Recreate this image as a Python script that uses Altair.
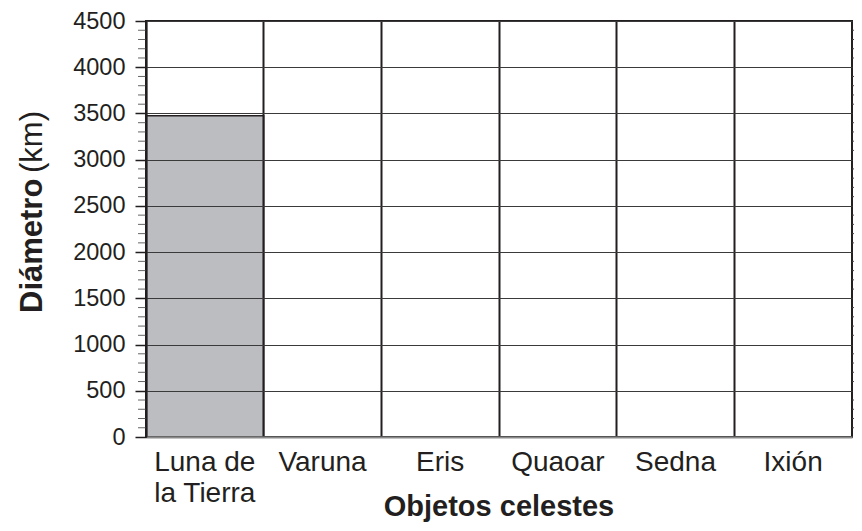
import altair as alt
import pandas as pd

objetos = ["Luna de la Tierra", "Varuna", "Eris", "Quaoar", "Sedna", "Ixión"]
diametros = [3475, None, None, None, None, None]
ticks_mayores = [0, 500, 1000, 1500, 2000, 2500, 3000, 3500, 4000, 4500]
ticks_menores = [100, 200, 300, 400, 600, 700, 800, 900, 1100, 1200, 1300, 1400,
                 1600, 1700, 1800, 1900, 2100, 2200, 2300, 2400, 2600, 2700, 2800, 2900,
                 3100, 3200, 3300, 3400, 3600, 3700, 3800, 3900, 4100, 4200, 4300, 4400]
titulo_y = ["Diámetro", "(km)"]
titulo_x = "Objetos celestes"

W, H = 706, 416
FONT = "Liberation Sans"
INK = "#231f20"

df = pd.DataFrame({"objeto": objetos, "diametro": diametros})

yscale = alt.Scale(domain=[0, 4500], nice=False, zero=True)

bars = alt.Chart(df).mark_bar(fill="#bcbdc0", stroke=INK, strokeWidth=1.5).encode(
    x=alt.X("objeto:N", sort=objetos,
            scale=alt.Scale(domain=objetos, paddingInner=0, paddingOuter=0),
            axis=alt.Axis(title=None, grid=True, gridColor=INK, gridWidth=2, gridOpacity=1,
                          bandPosition=0, ticks=False, domain=True, domainColor="#8a8a8a",
                          domainWidth=2, labelFontSize=28, labelColor=INK, labelPadding=11,
                          labelLineHeight=31, labelAngle=0, labelBaseline="top",
                          labelExpr="datum.value == 'Luna de la Tierra' ? ['Luna de', 'la Tierra'] : datum.value",
                          zindex=1)),
    y=alt.Y("diametro:Q", scale=yscale,
            axis=alt.Axis(title=None, values=ticks_mayores, format="d", grid=True,
                          gridColor="#3a3a3a", gridWidth=1, gridOpacity=1, tickSize=11,
                          tickColor=INK, tickWidth=1.5, domainColor=INK, domainWidth=1.5,
                          labelFontSize=23.5, labelColor=INK, labelPadding=10, zindex=1)),
)

minor_df = pd.DataFrame({"v": ticks_menores})
minor_left = alt.Chart(minor_df).mark_rule(color="#666666", strokeWidth=1).encode(
    y=alt.Y("v:Q", scale=yscale), x=alt.value(-8), x2=alt.value(0))
minor_right = alt.Chart(minor_df).mark_rule(color="#444444", strokeWidth=1).encode(
    y=alt.Y("v:Q", scale=yscale), x=alt.value(W), x2=alt.value(W + 2))

ty1 = alt.Chart(pd.DataFrame({"t": [titulo_y[0]]})).mark_text(
    angle=270, align="left", baseline="alphabetic", fontSize=31, fontWeight="bold",
    font=FONT, color=INK).encode(text="t:N", x=alt.value(-104), y=alt.value(292))
ty2 = alt.Chart(pd.DataFrame({"t": [titulo_y[1]]})).mark_text(
    angle=270, align="left", baseline="alphabetic", fontSize=31, fontWeight="normal",
    font=FONT, color=INK).encode(text="t:N", x=alt.value(-104), y=alt.value(152))
tx = alt.Chart(pd.DataFrame({"t": [titulo_x]})).mark_text(
    align="center", baseline="alphabetic", fontSize=29, fontWeight="bold",
    font=FONT, color=INK).encode(text="t:N", x=alt.value(W / 2), y=alt.value(H + 79))

chart = alt.layer(bars, minor_left, minor_right, ty1, ty2, tx).properties(
    width=W, height=H,
    autosize=alt.AutoSizeParams(type="none"),
    padding={"left": 138, "top": 13, "right": 2, "bottom": 85},
).configure(font=FONT).configure_view(stroke=INK, strokeWidth=2)

chart.save("out.html", embed_options={"renderer": "svg", "actions": False})
